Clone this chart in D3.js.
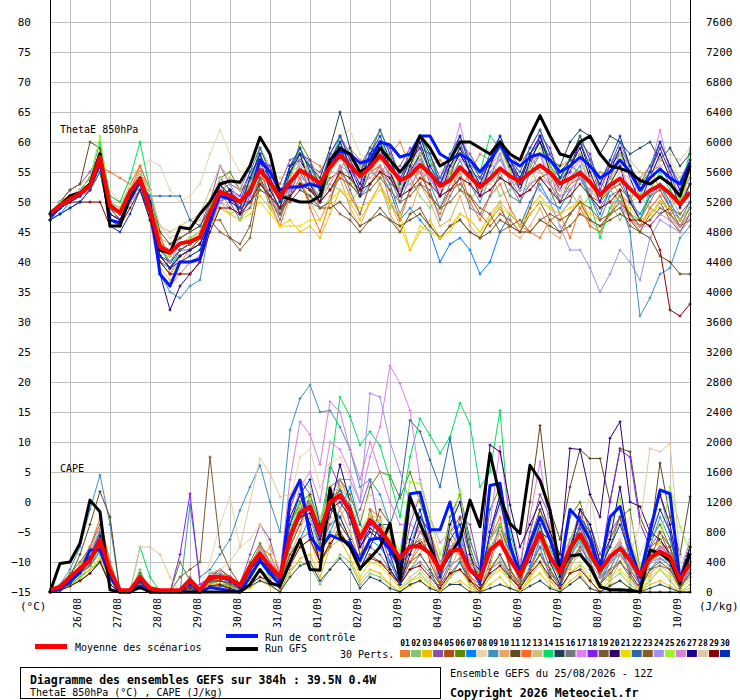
<!DOCTYPE html>
<html>
<head>
<meta charset="utf-8">
<title>GEFS ThetaE 850hPa / CAPE</title>
<style>
  body { margin: 0; background: #fff; }
  svg text { font-family: "DejaVu Sans Mono", monospace; fill: #000; }
  .grid line { stroke: #c0c0c0; stroke-width: 1; shape-rendering: crispEdges; }
  .frame line { stroke: #000; stroke-width: 1; shape-rendering: crispEdges; }
</style>
</head>
<body>
<script src="https://cdnjs.cloudflare.com/ajax/libs/d3/7.8.5/d3.min.js"></script>
<script>
// forecast hours, one point every 6h from 25/08 12Z
var hours = d3.range(0, 385, 6);
var dateLabels = ['26/08','27/08','28/08','29/08','30/08','31/08','01/09','02/09',
                  '03/09','04/09','05/09','06/09','07/09','08/09','09/09','10/09'];
var pertNames = d3.range(1, 31).map(function(d){ return (d < 10 ? '0' : '') + d; });
var pertColors = ['#e87f2e','#86c66e','#f0c000','#8b50a8','#b04d10','#5a8a00','#0080ff','#e8d4b0',
                  '#3f8fbf','#e8a860','#5e4a1e','#ff6a20','#d0c080','#00e060','#20405a','#707880',
                  '#e080f0','#8020f0','#7a5a30','#30006a','#f0d800','#2a6aa8','#8a5a20','#a090f0',
                  '#a0f030','#d880d8','#200090','#e0c8a0','#8a0000','#0030c0'];

// ThetaE 850hPa (degC)
var thetaMean = [48.1,49.4,50.5,51.4,52.7,57.5,49.4,48.2,51.7,53.9,48.9,42.5,41.6,43.1,43.4,44.2,48.3,51.7,51.1,50,
  51.9,55.3,53.3,50.8,53.3,55.3,54.3,53.1,55.8,57.8,56.1,54.3,55.8,57.7,55.8,53.6,54.4,56.2,54.7,52.7,
  53.6,55.8,54.2,52.5,53.9,55.6,54.3,53.4,54.9,56.1,54.9,53.1,53.9,54.9,53.3,51.2,52.8,53.9,52.2,50.6,
  51.9,52.8,51.4,49.6,51.6];
var thetaCtrl = [47.5,49,51,51.5,53,58,47,46.5,50.5,53.5,50,38,36,40,40,40.5,47,51,50.5,50,
  51.5,57,55,52,52.5,52.5,53,52.5,56,58.5,58,56.5,57,60,59.5,57.5,58,61,61,58,
  57,58,57,55,57,59.5,57,56,57.5,58,57,55,56,57.5,56,54,55,57,55,52,54,55.5,54,53,56.5];
var thetaGfs = [48,49.5,51,51.5,53,58,46,46,51,54,49,42,41.5,45.8,45.5,48,50,53,53.5,53.3,
  56,60.8,58,51,50.5,50,50,51,57,59,58,55,56,59,57,55,57,61,59,56,
  57,60,60,59,58,60,58,57,61,64.4,61,58,57.5,60,61,58,56,55.6,55,53.6,53,54.2,53,51,56];
var thetaPerts = [
  [48,50,51,52,53,59,50,49,52,56,52,45,38,40,42,44,50, 53,51,50,54,56,53,52,55,54,57,56,52,55,59,57,55,54,58,60,56,53,56,57,55,52,55,58,57,54,53,57,58,55,53,56,57,54,52,55,54,51,50,54,56,52,49,51,53],
  [47,49,51,52,54,56,48,47,51,53,48,40,38,41,42,43,47, 50,48,49,51,54,49,48,52,53,51,50,53,52,50,52,56,53,49,52,54,51,49,51,55,52,50,53,55,51,52,54,56,52,50,53,52,49,51,54,50,47,50,51,49,48,51,48,50],
  [48,49,50,51,52,55,47,46,50,52,47,39,37,38,40,41,46, 49,48,47,49,51,49,46,47,45,46,44,48,52,50,47,50,53,50,46,42,45,47,44,46,48,47,45,48,50,48,46,49,51,49,47,48,50,46,45,48,50,48,46,47,50,49,46,49],
  [48,50,52,53,55,58,50,48,52,55,50,43,42,44,45,46,50, 56,53,52,56,59,55,53,57,58,56,55,58,61,57,56,59,58,55,56,59,57,55,54,57,60,58,55,56,59,58,56,59,62,58,55,57,58,56,53,56,59,56,52,55,56,53,51,54],
  [48,49,50,51,52,56,49,48,51,53,49,41,39,41,42,44,48, 51,52,49,50,54,53,48,51,56,52,51,54,55,53,51,55,56,53,52,55,55,51,49,52,53,51,48,46,48,47,45,49,54,55,50,53,54,51,50,52,53,50,47,51,52,49,48,50],
  [47,49,51,52,54,57,50,49,52,54,50,43,41,43,44,45,49, 54,55,52,53,59,56,51,54,60,57,53,55,59,56,54,58,62,58,52,55,61,58,53,54,59,57,54,57,60,55,52,56,58,57,55,57,61,57,51,54,58,56,53,55,59,55,50,53],
  [47,48,50,51,52,55,48,47,51,53,47,40,39,42,42,43,47, 52,50,47,51,55,51,48,53,55,52,50,55,58,54,51,53,55,52,47,49,47,45,40,43,44,42,38,40,45,48,46,50,53,50,49,52,54,51,48,52,54,50,48,51,53,50,47,50],
  [48,50,52,53,54,58,52,50,54,56,57,56,52,50,51,53,58, 62,58,55,56,59,56,52,55,58,57,53,57,61,62,58,57,60,58,54,56,59,55,52,55,58,54,51,54,57,56,52,53,58,55,51,54,57,54,52,55,56,52,50,53,56,57,54,56],
  [48,49,51,52,53,56,49,47,50,53,47,38,35,34,36,37,46, 50,52,48,52,57,52,49,55,57,54,50,55,59,55,51,55,58,54,50,54,58,53,49,53,57,53,50,54,58,53,50,55,58,53,50,54,56,51,49,52,50,45,31,34,38,39,44,46],
  [48,49,51,52,53,57,51,50,52,55,51,44,43,44,45,46,49, 53,51,50,52,55,51,48,51,54,50,47,51,54,49,46,50,53,48,45,48,53,50,46,47,51,46,44,47,50,45,44,46,49,45,44,48,51,47,45,49,52,48,45,49,51,48,45,48],
  [48,50,52,53,60,59,50,48,52,55,52,45,43,44,45,46,49, 52,51,50,50,52,51,49,50,52,51,49,49,50,48,46,47,48,47,46,47,48,46,44,46,47,45,44,45,47,46,45,45,47,46,45,46,48,47,46,47,48,47,45,44,41,40,38,38],
  [48,49,51,51,53,56,55,54,53,56,52,44,41,43,44,45,49, 52,49,48,53,56,50,46,51,54,49,45,50,55,51,48,53,56,50,47,52,56,51,48,52,55,50,47,51,53,49,46,45,44,47,48,44,49,46,45,48,51,47,46,49,51,48,46,48],
  [48,50,51,52,53,57,50,49,53,55,51,46,45,46,47,48,52, 56,54,52,54,57,55,54,55,56,57,54,55,58,56,56,57,57,56,54,56,59,56,53,55,58,55,53,56,57,57,55,56,58,56,54,56,57,55,53,55,56,57,55,54,57,56,54,57],
  [48,49,51,52,54,60,51,50,54,60,52,43,40,41,42,43,47, 50,52,49,53,58,54,50,55,59,56,52,56,61,57,54,58,60,57,53,57,61,57,53,56,59,56,55,61,59,56,54,57,60,56,54,56,55,50,44,49,51,48,47,52,55,52,50,59],
  [48,49,50,51,52,56,48,47,51,54,49,41,40,42,43,44,48, 51,52,49,53,57,54,51,56,58,56,54,59,65,59,55,58,60,56,54,57,59,55,53,56,58,55,53,57,59,56,54,58,60,57,56,60,62,61,58,61,60,58,59,60,57,59,56,58],
  [47,49,50,51,53,56,49,47,51,54,49,42,40,42,43,44,48, 50,51,48,49,54,51,47,52,53,53,49,50,56,52,48,53,55,53,48,52,53,52,47,51,54,49,48,51,55,51,50,53,54,52,48,50,55,51,47,51,52,51,47,50,53,49,46,49],
  [48,49,51,52,53,57,48,47,51,53,48,40,38,41,42,43,47, 50,52,49,51,56,52,49,53,56,53,51,56,58,55,53,56,58,55,52,55,57,54,52,57,63,56,53,56,58,54,52,56,58,54,52,55,57,53,50,54,56,52,51,55,62,55,51,54],
  [48,50,51,52,54,58,50,48,52,55,50,42,40,42,43,44,48, 54,52,51,55,57,56,51,56,58,57,52,58,61,57,54,58,60,59,54,57,59,58,53,57,60,55,54,57,59,57,53,56,61,59,54,55,60,58,52,56,58,55,51,55,59,55,52,56],
  [48,49,50,51,52,55,48,47,50,52,48,41,39,41,42,43,47, 45,44,43,46,54,50,48,51,53,50,49,50,48,47,45,47,49,47,45,48,49,46,44,46,47,45,44,47,49,46,45,48,50,47,45,48,50,47,46,48,49,46,45,48,50,47,45,48],
  [48,49,51,52,53,57,49,48,51,54,49,41,39,41,42,43,47, 53,50,49,54,58,53,50,56,57,54,52,55,60,56,52,57,59,55,51,55,58,54,51,55,58,55,52,56,60,56,53,58,61,56,53,56,60,55,51,53,56,50,47,46,48,49,47,49],
  [48,49,50,51,52,55,47,46,50,52,48,40,38,40,41,42,46,49,48,47,48,50,48,46,46,46,47,47,50,52,51,49,50,52,50,48,42,46,45,44,45,48,47,45,47,49,48,46,48,50,49,48,49,50,48,47,48,50,49,47,48,50,49,47,49],
  [47,48,49,50,52,55,47,46,50,53,51,51,51,51,47,46,49, 54,52,50,55,59,55,51,56,58,56,53,58,61,58,55,59,62,58,55,58,61,58,54,58,61,57,54,58,61,57,55,59,62,58,55,57,61,57,54,56,60,56,53,56,60,56,53,57],
  [48,49,50,51,53,56,49,47,51,53,49,42,40,42,43,44,47,47,44,42,44,53,51,49,51,53,52,50,52,54,53,51,52,54,52,50,51,53,51,49,50,52,51,49,48,45,46,47,45,47,48,47,48,50,49,47,48,50,48,46,47,49,48,46,47],
  [48,49,51,52,53,57,49,48,52,54,49,42,40,43,44,45,49, 52,53,50,51,56,54,50,52,57,55,52,56,58,55,53,56,58,54,52,55,57,54,51,54,57,56,52,55,57,54,51,53,52,50,46,42,42,39,35,38,42,40,37,44,47,46,45,47],
  [48,50,51,52,54,61,50,48,52,55,50,42,41,43,44,45,49, 54,51,49,53,57,52,49,54,58,54,50,55,59,54,51,56,60,55,52,56,58,54,51,55,59,56,52,56,59,55,52,56,59,56,53,57,58,53,50,53,58,55,51,54,58,54,50,55],
  [48,49,50,51,52,56,48,47,50,52,47,38,36,38,40,41,46,50,49,48,50,53,51,49,51,54,53,51,53,56,55,53,54,56,54,52,53,55,54,51,52,54,53,51,52,54,53,51,52,54,53,51,52,54,52,50,50,50,47,46,46,48,47,46,48],
  [48,49,50,51,53,56,48,47,51,53,48,38,32,36,38,40,46, 51,52,48,52,57,52,49,55,58,53,50,56,59,55,51,57,60,55,51,56,60,55,51,56,59,55,51,56,60,56,52,57,60,55,52,56,59,54,50,55,59,54,50,54,58,54,49,53],
  [48,49,51,52,53,57,50,49,52,55,52,46,44,45,46,47,50,54,54,53,53,56,55,52,54,56,55,53,55,57,56,54,55,57,55,53,54,56,55,52,53,55,54,52,53,55,54,52,53,55,54,52,53,55,54,51,52,55,54,52,54,57,58,57,59],
  [48,49,50,50,50,50,46,46,49,52,47,40,38,38,38,40,45,49,49,48,50,53,51,49,51,53,52,50,52,55,54,52,53,55,54,51,52,54,53,51,52,54,53,51,52,54,53,51,52,54,52,50,51,53,51,49,50,52,47,47,46,42,32,31,33],
  [47,48,49,50,52,56,46,45,48,52,48,41,39,40,41,42,47, 53,51,49,54,58,54,50,56,59,55,52,57,60,56,53,58,61,57,53,57,61,56,53,57,61,56,53,57,61,57,54,58,61,57,54,57,60,56,53,57,61,56,52,55,60,56,52,57]
];

// CAPE (J/kg), right axis
var capeMean = [25,70, 200,315,425,690, 290,25,25,200, 50,25,25,25, 160,25,200,200, 180,90,340,515,
  340,205,740,1050, 1140,800,1200,1290, 1090,715,960,825, 650,450,605,610, 515,295,540,570,
  295,180,560,670, 430,225,515,780, 470,260,580,770, 515,285,470,580, 425,225,450,540, 470,160,380];
var capeCtrl = [0,40, 150,260,560,560, 200,0,0,80, 0,0,0,0, 0,0,60,40, 20,0,200,420,
  250,100,1220,1490, 740,560,760,700, 650,420,700,720, 560,330,1310,1330, 830,830,1200,600,
  300,150,1420,1450, 600,260,650,1000, 700,300,1100,950, 700,300,1000,1140, 600,200,800,1360, 1310,160,515];
var capeGfs = [0,380, 400,650,1225,1070, 30,0,0,60, 0,0,0,0, 0,0,0,0, 0,0,100,300,
  120,80,400,700, 300,290,1380,740, 600,315,450,600, 915,160,1270,915, 600,290,500,700,
  1225,870,1850,1270, 915,780,1690,1490, 1090,290,480,500, 340,70,30,30, 20,0,560,515, 420,115,520];
var capePerts = [
  [0,30, 100,250,450,700, 250,0,0,150, 0,0,0,0, 100,0,150,100, 100,0,200,500, 300,100,900,1300, 800,400,1000,1500, 1200,500,600,900, 800,200,400,700, 500,100,700,500, 200,50,600,800, 300,50,300,600, 500,150,700,1000, 400,100,500,700, 200,0,400,600, 600,100,300],
  [0,20, 80,200,350,500, 150,0,0,300, 0,0,0,0, 50,0,100,150, 80,0,100,200, 100,0,300,400, 350,100,300,500, 400,100,250,200, 100,0,150,250, 100,0,200,300, 100,0,200,350, 150,0,200,400, 150,0,250,350, 150,0,150,250, 100,0,150,300, 150,0,100],
  [0,40, 150,300,400,600, 200,0,0,100, 0,0,0,0, 0,0,100,150, 50,0,50,150, 80,0,250,450, 500,200,600,700, 450,150,300,250, 100,0,80,150, 50,0,100,150, 50,0,100,200, 50,0,150,250, 80,0,150,250, 50,0,100,150, 50,0,100,150, 80,0,50],
  [0,50, 200,350,500,800, 300,0,0,250, 0,0,0,0, 200,0,250,300, 200,100,500,900, 700,200,1100,1500, 1300,600,1700,1400, 900,1100,1500,800, 400,200,900,1300, 700,100,400,1000, 900,300,700,1200, 600,150,800,1300, 1000,300,600,1100, 900,500,800,1000, 400,100,900,1300, 800,200,700],
  [0,30, 120,280,420,650, 350,0,0,150, 0,0,0,0, 100,0,200,200, 150,50,300,450, 200,100,600,1200, 800,500,1300,900, 700,400,1100,700, 300,100,600,900, 400,100,800,600, 100,0,400,900, 600,100,300,700, 300,50,500,1100, 700,200,300,600, 300,100,600,800, 500,100,200],
  [0,60, 250,400,600,900, 400,0,0,250, 0,0,0,400, 150,0,250,250, 200,80,400,650, 400,250,900,1200, 1300,900,1400,1500, 1300,900,1400,1600, 1550,1250,1600,1200, 800,300,1000,1300, 600,200,1100,1400, 300,100,500,1100, 700,200,1000,1200, 800,400,600,1000, 1100,300,700,900, 600,200,600],
  [0,20, 100,250,350,550, 200,0,0,120, 0,0,0,0, 80,0,150,200, 150,50,250,400, 200,100,500,700, 1000,600,800,1100, 1400,900,700,600, 400,100,300,500, 300,0,200,400, 100,0,300,500, 200,50,350,600, 200,50,450,700, 300,100,400,600, 250,50,300,450, 350,50,300],
  [0,40, 150,300,450,750, 300,0,0,200, 100,0,0,0, 150,50,400,900, 1270,600,700,900, 600,300,1200,1800, 1900,1400,1700,1800, 1500,1000,1300,1200, 900,400,1000,1300, 800,300,500,900, 350,100,800,1100, 600,200,300,700, 900,400,500,800, 1300,600,400,700, 1000,500,800,1100, 900,300,700],
  [0,100, 300,600,1100,1560, 900,0,0,200, 0,0,0,0, 1160,200,300,500, 700,1090,1400,1690, 1200,800,2160,2580, 2760,2400,2420,2200, 1900,1400,1500,1300, 900,300,600,1000, 700,200,400,800, 300,100,500,900, 500,100,300,700, 600,200,400,900, 700,300,200,500, 300,100,600,1000, 700,200,600],
  [0,30, 130,280,400,620, 260,0,0,180, 0,0,0,0, 120,0,180,180, 150,60,200,400, 600,300,500,800, 1300,900,700,1000, 1200,500,600,900, 700,200,300,500, 800,400,300,600, 200,100,350,800, 600,100,250,500, 900,400,300,600, 800,200,150,400, 700,300,200,600, 300,100,500],
  [0,60, 200,500,900,1340, 1000,0,0,200, 0,0,0,0, 100,0,200,300, 200,80,350,600, 400,200,800,1100, 1200,800,1200,1300, 1100,700,900,800, 600,400,600,700, 500,300,600,700, 400,200,700,900, 500,300,1200,2220, 1100,700,1400,1900, 1780,1780,1200,1915, 1870,1000,700,1720, 1000,500,1270],
  [0,40, 200,350,600,980, 400,0,0,150, 0,0,0,0, 100,0,200,250, 200,80,300,600, 500,200,700,900, 1200,700,1400,1100, 800,400,1100,1000, 500,300,400,600, 800,400,600,500, 200,100,700,1000, 300,100,600,900, 400,100,500,800, 600,300,400,500, 300,100,500,700, 400,100,300],
  [0,20, 100,200,300,450, 150,0,0,100, 0,0,0,0, 50,0,100,100, 80,0,150,300, 200,80,600,900, 1000,500,900,1100, 800,300,500,400, 250,50,200,300, 150,0,250,300, 100,0,300,450, 200,50,300,500, 250,80,350,500, 300,100,300,400, 200,50,250,350, 250,50,200],
  [0,30, 100,200,300,400, 150,0,0,600, 200,0,0,0, 50,0,100,100, 80,0,200,400, 300,200,800,1200, 1300,900,1600,2600, 2340,1960,2140,1950, 1500,1000,1800,2310, 2090,1850,2070,2520, 2240,1400,1600,2420, 800,300,500,700, 400,200,500,700, 450,250,400,500, 350,200,400,500, 400,150,350],
  [0,20, 80,150,250,400, 100,0,0,80, 0,0,0,0, 50,0,80,80, 50,0,80,150, 100,0,200,350, 400,150,300,450, 300,50,200,150, 50,0,100,150, 50,0,100,100, 0,0,50,100, 50,0,80,150, 50,0,100,200, 50,0,80,150, 50,0,50,100, 50,0,0],
  [0,30, 120,250,350,550, 200,0,0,120, 0,0,0,0, 80,0,120,150, 100,30,250,400, 250,120,700,1000, 1100,600,900,1000, 700,300,600,500, 300,100,300,400, 250,50,350,450, 150,0,300,400, 200,50,300,500, 250,80,400,550, 300,100,300,400, 200,50,300,350, 300,80,250],
  [0,40, 150,300,450,700, 300,0,0,150, 0,0,0,0, 100,0,200,200, 150,60,300,500, 350,200,900,1400, 1600,1200,2000,1900, 1600,1200,1800,2200, 3020,2780,2420,1500, 1000,660,800,900, 500,300,900,1940, 900,400,1000,1740, 800,400,700,900, 600,300,500,650, 450,250,500,600, 500,150,400],
  [0,30, 120,280,400,650, 250,0,0,150, 0,0,0,500, 1310,100,200,250, 150,50,300,500, 300,150,700,1000, 1100,750,1150,1250, 1050,650,900,800, 600,400,600,600, 500,300,550,600, 300,150,550,650, 400,200,500,750, 450,250,550,800, 600,300,1200,1890, 1800,915,600,700, 500,200,400],
  [0,50, 180,320,480,720, 280,0,0,180, 0,0,0,200, 300,400,1800,600, 300,100,350,550, 350,200,600,900, 1300,800,1000,1400, 1000,500,700,1100, 900,400,500,800, 700,300,800,1000, 500,200,600,800, 300,100,700,1100, 800,300,500,900, 600,200,700,1000, 500,200,400,800, 600,200,500],
  [0,30, 120,250,400,600, 250,0,0,120, 0,0,0,0, 80,0,150,150, 120,40,280,450, 300,150,700,1000, 1050,700,1100,1200, 1000,600,850,750, 600,400,600,650, 500,300,600,700, 400,300,1960,1870, 1160,600,900,1200, 800,500,1915,1900, 1300,1000,2050,2270, 1200,1140,800,700, 500,200,400],
  [0,20, 80,180,300,450, 150,0,0,100, 0,0,0,0, 50,0,100,100, 60,0,150,300, 200,80,400,600, 700,300,700,800, 600,200,400,350, 200,50,150,200, 100,0,200,300, 100,0,200,300, 150,0,200,350, 150,50,250,400, 200,50,200,300, 150,0,200,300, 200,50,150],
  [0,40, 150,300,500,800, 300,0,0,150, 0,0,0,0, 100,0,200,200, 150,60,300,500, 350,200,800,1100, 1200,850,1250,1350, 1150,750,1000,900, 900,1300,2290,2140, 1760,1400,2050,1300, 700,300,700,900, 500,250,600,850, 500,300,650,850, 550,300,500,650, 450,250,500,600, 500,150,450],
  [0,30, 120,250,380,600, 250,0,0,130, 0,0,0,0, 80,0,150,150, 120,40,250,420, 280,150,500,700, 800,400,600,900, 700,300,500,400, 300,100,400,500, 300,100,250,400, 150,0,300,500, 250,50,300,500, 300,100,400,600, 400,100,250,400, 250,50,300,400, 300,50,250],
  [0,40, 150,300,450,700, 300,0,0,150, 0,0,0,0, 100,0,200,200, 150,60,300,500, 350,200,800,1100, 1200,850,1300,1500, 1500,1200,2650,2600, 2000,1600,1200,900, 700,400,600,650, 350,200,500,650, 400,200,500,700, 450,250,500,650, 400,200,400,500, 350,150,400,450, 400,100,300],
  [0,40, 150,320,500,750, 350,0,0,200, 0,0,0,0, 120,0,200,250, 180,70,350,550, 400,250,850,1150, 1250,900,1300,1400, 1200,800,1050,950, 750,550,1470,1450, 1000,500,800,1360, 450,250,700,900, 550,300,650,900, 550,300,650,1000, 650,350,900,1250, 650,350,550,650, 1400,870,550],
  [0,50, 180,350,550,850, 350,0,0,180, 0,0,0,0, 120,0,220,250, 180,80,350,600, 400,250,1500,2270, 2100,1700,2540,2400, 1900,1500,2000,1600, 1200,900,900,800, 600,350,600,650, 350,200,550,700, 450,250,550,800, 500,300,600,800, 550,300,500,600, 450,250,500,600, 500,150,400],
  [0,40, 150,300,480,750, 300,0,0,150, 0,0,0,0, 100,0,200,220, 160,60,320,520, 350,200,1000,1300, 900,400,1100,1700, 1200,600,800,700, 300,100,500,1000, 800,200,900,1200, 500,100,800,1300, 900,300,400,800, 700,200,500,1100, 900,400,700,1400, 600,200,800,1300, 900,200,600],
  [0,60, 200,350,500,700, 300,0,0,600, 600,500,200,0, 150,0,250,300, 400,600,1200,1780, 1580,1270,1300,1500, 1400,1000,1300,1400, 1200,800,1000,900, 700,500,700,700, 600,350,600,700, 400,250,600,800, 500,300,600,850, 500,300,600,800, 550,300,500,650, 500,900,1915,1870, 1980,470,450],
  [0,20, 80,150,250,400, 100,0,0,80, 0,0,0,0, 50,0,80,100, 50,0,100,200, 150,50,350,600, 700,400,650,800, 600,300,450,400, 250,100,300,350, 200,50,250,300, 150,50,250,350, 200,50,250,400, 200,50,250,300, 150,0,0,0, 0,0,0,0, 0,0,0],
  [0,30, 120,280,420,650, 260,0,0,140, 0,0,0,0, 90,0,170,180, 140,50,280,480, 320,180,900,1300, 1500,900,1100,1000, 700,300,600,900, 500,100,700,1100, 600,200,700,900, 300,100,800,1200, 700,200,500,900, 400,100,600,1000, 800,300,600,900, 500,100,700,1100, 800,100,600]
];

var W = 740, H = 700;
var x = d3.scaleLinear().domain([0, 384]).range([50, 690]);
var yL = d3.scaleLinear().domain([-15, 80]).range([592, 22]);
var yR = d3.scaleLinear().domain([0, 7600]).range([592, 22]);

var svg = d3.select('body').append('svg')
  .attr('width', W)
  .attr('height', H);

svg.append('rect').attr('width', W).attr('height', H).attr('fill', '#fff');

// grid
var grid = svg.append('g').attr('class', 'grid');
grid.selectAll('line.h')
  .data(d3.range(-10, 81, 5))
  .enter().append('line').attr('class', 'h')
  .attr('x1', 50).attr('x2', 690)
  .attr('y1', function(d){ return yL(d) + 0.5; })
  .attr('y2', function(d){ return yL(d) + 0.5; });
grid.selectAll('line.v')
  .data(d3.range(12, 384, 24))
  .enter().append('line').attr('class', 'v')
  .attr('x1', function(d){ return x(d) + 0.5; })
  .attr('x2', function(d){ return x(d) + 0.5; })
  .attr('y1', 0).attr('y2', 592);

// series
var lineT = d3.line()
  .x(function(d, i){ return x(hours[i]); })
  .y(function(d){ return yL(d); });
var lineC = d3.line()
  .x(function(d, i){ return x(hours[i]); })
  .y(function(d){ return yR(d); });

function crosses(vals, yScale){
  var p = '';
  vals.forEach(function(v, i){
    var px = x(hours[i]), py = yScale(v);
    p += 'M' + (px - 1.5) + ',' + py + 'h3M' + px + ',' + (py - 1.5) + 'v3';
  });
  return p;
}

function drawPerts(perts, yScale, gen){
  var g = svg.append('g');
  perts.forEach(function(vals, k){
    g.append('path')
      .attr('d', gen(vals))
      .attr('fill', 'none')
      .attr('stroke', pertColors[k])
      .attr('stroke-width', 1);
    g.append('path')
      .attr('d', crosses(vals, yScale))
      .attr('fill', 'none')
      .attr('stroke', pertColors[k])
      .attr('stroke-width', 1);
  });
}

function drawMain(vals, gen, color, w){
  svg.append('path')
    .attr('d', gen(vals))
    .attr('fill', 'none')
    .attr('stroke', color)
    .attr('stroke-width', w)
    .attr('stroke-linejoin', 'round');
}

drawPerts(capePerts, yR, lineC);
drawPerts(thetaPerts, yL, lineT);

drawMain(capeCtrl, lineC, '#0018ff', 3);
drawMain(capeGfs, lineC, '#000', 3);
drawMain(thetaCtrl, lineT, '#0018ff', 3);
drawMain(thetaGfs, lineT, '#000', 3);
drawMain(capeMean, lineC, '#ff0000', 4);
drawMain(thetaMean, lineT, '#ff0000', 4);

// frame
var frame = svg.append('g').attr('class', 'frame');
frame.append('line').attr('x1', 50.5).attr('x2', 50.5).attr('y1', 0).attr('y2', 593);
frame.append('line').attr('x1', 690.5).attr('x2', 690.5).attr('y1', 0).attr('y2', 593);
frame.append('line').attr('x1', 50).attr('x2', 691).attr('y1', 592.5).attr('y2', 592.5);

// axes labels
var axL = svg.append('g').attr('transform', 'translate(50,0)')
  .call(d3.axisLeft(yL).tickValues(d3.range(-15, 81, 5)).tickSize(0).tickPadding(19));
var axR = svg.append('g').attr('transform', 'translate(690,0)')
  .call(d3.axisRight(yR).tickValues(d3.range(0, 7601, 400)).tickFormat(d3.format('d')).tickSize(0).tickPadding(16));
[axL, axR].forEach(function(a){
  a.select('.domain').remove();
  a.attr('font-family', '"DejaVu Sans Mono", monospace').attr('font-size', 11);
});

svg.selectAll('text.date')
  .data(d3.range(12, 384, 24))
  .enter().append('text').attr('class', 'date')
  .attr('transform', function(d){ return 'translate(' + (x(d) + 11) + ',598) rotate(-90)'; })
  .attr('text-anchor', 'end')
  .attr('font-size', 10)
  .text(function(d, i){ return dateLabels[i]; });

svg.append('text').attr('x', 20).attr('y', 610).attr('font-size', 11).text('(°C)');
svg.append('text').attr('x', 699).attr('y', 610).attr('font-size', 11).text('(J/kg)');
svg.append('text').attr('x', 60).attr('y', 133).attr('font-size', 10).text('ThetaE 850hPa');
svg.append('text').attr('x', 60).attr('y', 472).attr('font-size', 10).text('CAPE');

// legend
svg.append('rect').attr('x', 35).attr('y', 644).attr('width', 32).attr('height', 5).attr('fill', '#ff0000');
svg.append('text').attr('x', 75).attr('y', 651).attr('font-size', 10).text('Moyenne des scénarios');
svg.append('rect').attr('x', 226).attr('y', 634).attr('width', 32).attr('height', 4).attr('fill', '#0018ff');
svg.append('text').attr('x', 265).attr('y', 641).attr('font-size', 10).text('Run de contrôle');
svg.append('rect').attr('x', 226).attr('y', 647).attr('width', 32).attr('height', 4).attr('fill', '#000');
svg.append('text').attr('x', 265).attr('y', 652).attr('font-size', 10).text('Run GFS');
svg.append('text').attr('x', 340).attr('y', 658).attr('font-size', 10).text('30 Perts.');

var sw = d3.scaleLinear().domain([0, 29]).range([400, 720]);
svg.selectAll('text.pn').data(pertNames).enter().append('text').attr('class', 'pn')
  .attr('x', function(d, i){ return sw(i) + 5; })
  .attr('y', 646)
  .attr('text-anchor', 'middle')
  .attr('font-size', 8)
  .attr('font-weight', 'bold')
  .text(function(d){ return d; });
svg.selectAll('rect.sw').data(pertColors).enter().append('rect').attr('class', 'sw')
  .attr('x', function(d, i){ return sw(i); })
  .attr('y', 650)
  .attr('width', 10).attr('height', 7)
  .attr('fill', function(d){ return d; });

// title box
svg.append('rect').attr('x', 20.5).attr('y', 667.5).attr('width', 420).attr('height', 31)
  .attr('fill', 'none').attr('stroke', '#000');
svg.append('text').attr('x', 30).attr('y', 684).attr('font-size', 11.5).attr('font-weight', 'bold')
  .text('Diagramme des ensembles GEFS sur 384h : 39.5N 0.4W');
svg.append('text').attr('x', 30).attr('y', 696).attr('font-size', 10)
  .text('ThetaE 850hPa (°C) , CAPE (J/kg)');
svg.append('text').attr('x', 450).attr('y', 677).attr('font-size', 10.2)
  .text('Ensemble GEFS du 25/08/2026 - 12Z');
svg.append('text').attr('x', 450).attr('y', 697).attr('font-size', 11.6).attr('font-weight', 'bold')
  .text('Copyright 2026 Meteociel.fr');

// sanity check on series lengths
var bad = [];
[thetaMean, thetaCtrl, thetaGfs, capeMean, capeCtrl, capeGfs].forEach(function(a, k){
  if (a.length !== hours.length) bad.push('main' + k + ':' + a.length);
});
thetaPerts.forEach(function(a, k){ if (a.length !== hours.length) bad.push('T' + (k + 1) + ':' + a.length); });
capePerts.forEach(function(a, k){ if (a.length !== hours.length) bad.push('C' + (k + 1) + ':' + a.length); });
if (bad.length) svg.append('text').attr('x', 60).attr('y', 20).style('fill', 'red').text(bad.join(' '));
</script>
</body>
</html>
